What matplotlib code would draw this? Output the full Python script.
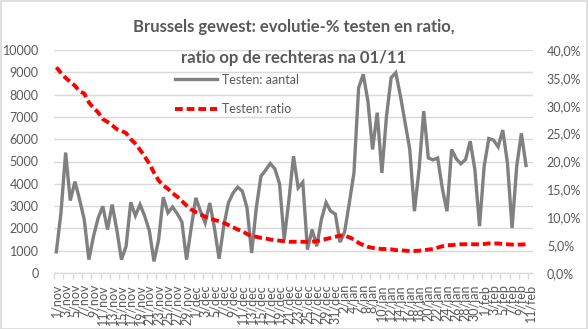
import numpy as np
import pandas as pd
import matplotlib
matplotlib.use("Agg")
import matplotlib.pyplot as plt
from matplotlib.ticker import FixedLocator, FuncFormatter
from matplotlib.patches import Rectangle

plt.rcParams['font.family'] = ['Lato', 'DejaVu Sans']

# dagen 1/nov t.e.m. 11/feb
dates = pd.date_range("2020-11-01", "2021-02-11", freq="D")
month_nl = {11: "nov", 12: "dec", 1: "jan", 2: "feb"}
date_labels = [f"{d.day}/{month_nl[d.month]}" for d in dates]

# aantal testen per dag (Brussels gewest)
tests_count = [
    950, 2700, 5400, 3250, 4100, 3300, 2400, 600, 1650, 2470,
    2990, 1950, 3070, 1950, 600, 1200, 3170, 2570, 3070, 2550,
    1900, 520, 1500, 3400, 2700, 2960, 2660, 2290, 600, 2020,
    3370, 2770, 2250, 3140, 2020, 640, 2100, 3140, 3590, 3850,
    3670, 2920, 900, 2920, 4340, 4610, 4910, 4670, 4000, 1500,
    3250, 5240, 3820, 4070, 1050, 1950, 1200, 2400, 3160, 2770,
    2640, 1380, 1850, 3140, 4490, 8300, 8910, 7710, 5540, 7190,
    4490, 7040, 8760, 8980, 7930, 6740, 5540, 2770, 4640, 7260,
    5160, 5070, 5160, 3800, 2770, 5540, 5120, 4900, 5090, 5910,
    4640, 2100, 4790, 6030, 5960, 5660, 6410, 4940, 2020, 4790,
    6260, 4820,
]

# positiviteitsratio in %
tests_ratio = [
    36.9, 35.9, 35.0, 34.3, 33.6, 32.6, 32.2, 30.6, 29.6, 28.8,
    27.6, 27.1, 26.5, 25.8, 25.5, 25.1, 24.0, 23.2, 22.1, 20.9,
    19.6, 18.0, 16.6, 15.7, 15.1, 14.3, 13.7, 12.9, 12.1, 11.4,
    10.9, 10.5, 10.1, 9.8, 9.5, 9.3, 9.0, 8.6, 8.2, 7.8,
    7.5, 7.0, 6.6, 6.5, 6.3, 6.2, 6.0, 5.9, 5.8, 5.7,
    5.6, 5.6, 5.6, 5.6, 5.6, 5.6, 5.7, 5.9, 6.1, 6.3,
    6.5, 6.7, 6.7, 6.4, 6.0, 5.4, 5.0, 4.7, 4.5, 4.4,
    4.3, 4.3, 4.25, 4.1, 4.1, 4.0, 3.95, 3.95, 4.0, 4.1,
    4.2, 4.3, 4.55, 4.8, 5.0, 5.0, 5.1, 5.15, 5.15, 5.15,
    5.15, 5.15, 5.2, 5.3, 5.3, 5.3, 5.2, 5.15, 5.1, 5.1,
    5.1, 5.15,
]

TXT = "#595959"
GRID = "#D9D9D9"

fig = plt.figure(figsize=(5.88, 3.29), dpi=100)
fig.patches.append(Rectangle((0.001, 0.001), 0.997, 0.996, transform=fig.transFigure,
                             fill=False, edgecolor=GRID, linewidth=1.2))
ax = fig.add_axes([54 / 588, 1 - 273 / 329, 479 / 588, 223 / 329])
ax2 = ax.twinx()

x_count = np.arange(len(tests_count))
x_ratio = np.arange(len(tests_ratio))
l1, = ax.plot(x_count, tests_count, color="#808080", linewidth=2.4,
              solid_joinstyle="miter", label="Testen: aantal")
l2, = ax2.plot(x_ratio, np.array(tests_ratio) / 100, color="#FF0000", linewidth=2.8,
               dashes=(2.0, 1.0), label="Testen: ratio")

ax.set_xlim(-0.5, len(dates) - 0.5)
ax.set_ylim(0, 10000)
ax.set_yticks(np.arange(0, 10001, 1000))
ax2.set_ylim(0, 0.4)
ax2.set_yticks(np.arange(0, 0.401, 0.05))
ax2.yaxis.set_major_formatter(FuncFormatter(lambda v, p: f"{v * 100:.1f}%".replace(".", ",")))

ax.grid(axis="y", color=GRID, linewidth=1)
ax.set_axisbelow(True)
for a in (ax, ax2):
    for s in ("left", "right", "top"):
        a.spines[s].set_visible(False)
    a.spines["bottom"].set_color(GRID)

# labels om de 2 dagen, streepjes tussen de categorieën
ax.xaxis.set_major_locator(FixedLocator(np.arange(0, len(dates), 2)))
ax.set_xticklabels(date_labels[::2])
ax.xaxis.set_minor_locator(FixedLocator(np.arange(-0.5, len(dates), 2)))
ax.tick_params(axis="x", which="major", length=0, pad=8, labelsize=9,
               labelcolor=TXT, labelrotation=90)
ax.tick_params(axis="x", which="minor", length=4, color=GRID, width=1)
for t in ax.get_xticklabels():
    t.set_verticalalignment("top")
ax.tick_params(axis="y", length=0, pad=11, labelsize=9, labelcolor=TXT)
ax2.tick_params(axis="y", length=0, pad=10, labelsize=9, labelcolor=TXT)

leg = ax2.legend([l1, l2], ["Testen: aantal", "Testen: ratio"], loc="upper left",
                 bbox_to_anchor=(0.2526, 0.893), frameon=False, fontsize=9,
                 handlelength=3.4, handletextpad=0.35, labelspacing=1.4,
                 borderpad=0, borderaxespad=0)
for t in leg.get_texts():
    t.set_color(TXT)

fig.text(0.5, 1 - 27 / 329, "Brussels gewest: evolutie-% testen en ratio,",
         ha="center", va="center", fontsize=12, fontweight="bold", color=TXT)
fig.text(0.5, 1 - 58 / 329, "ratio op de rechteras na 01/11",
         ha="center", va="center", fontsize=12, fontweight="bold", color=TXT)

fig.savefig("out.png", dpi=100)
